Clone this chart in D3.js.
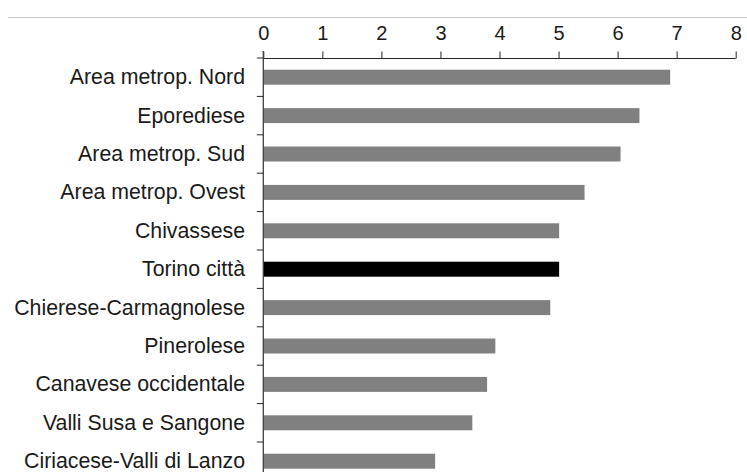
<!DOCTYPE html>
<html>
<head>
<meta charset="utf-8">
<script src="https://cdn.jsdelivr.net/npm/d3@7"></script>
<style>
html,body{margin:0;padding:0;background:#fff;}
svg{display:block;}
text{font-family:"Liberation Sans",Arial,sans-serif;fill:#1a1a1a;}
</style>
</head>
<body>
<svg id="chart" width="747" height="472"></svg>
<script>
const categories = ["Area metrop. Nord","Eporediese","Area metrop. Sud","Area metrop. Ovest","Chivassese","Torino città","Chierese-Carmagnolese","Pinerolese","Canavese occidentale","Valli Susa e Sangone","Ciriacese-Valli di Lanzo"];
const values = [6.89, 6.37, 6.05, 5.44, 5.01, 5.01, 4.86, 3.93, 3.79, 3.54, 2.91];
const highlight = ["Torino città"];
const xTicks = [0,1,2,3,4,5,6,7,8];

const svg = d3.select("#chart");
const x = d3.scaleLinear().domain([0,8]).range([263.3, 735.7]);
const y = d3.scaleBand().domain(categories).range([58, 480.4]).paddingInner(0.61).paddingOuter(0.305);

// top gray rule
svg.append("line").attr("x1",8).attr("x2",747).attr("y1",17.5).attr("y2",17.5)
  .attr("stroke","#c6c6c6").attr("stroke-width",1);

// bars
svg.append("g").selectAll("rect").data(categories).join("rect")
  .attr("x", x(0))
  .attr("y", d => y(d))
  .attr("width", (d,i) => x(values[i]) - x(0))
  .attr("height", y.bandwidth())
  .attr("fill", d => highlight.includes(d) ? "#000000" : "#808080");

// x axis (top)
const xg = svg.append("g").attr("transform","translate(0,58.5)")
  .call(d3.axisTop(x).tickValues(xTicks).tickSize(7).tickPadding(12).tickFormat(d3.format("d")));
xg.select(".domain").attr("stroke","#262626").attr("d", `M${x(0)},0H${x(8)}`);
xg.selectAll(".tick line").attr("stroke","#262626");
xg.selectAll(".tick text").attr("font-size",20).attr("fill","#1a1a1a").style("font-family","Liberation Sans, Arial, sans-serif");

// y axis
const yg = svg.append("g").attr("transform",`translate(${x(0)},0)`);
yg.append("line").attr("x1",0).attr("x2",0).attr("y1",51).attr("y2",472).attr("stroke","#404040").attr("stroke-width",1.3);
const step = y.step();
const bounds = d3.range(categories.length + 1).map(i => y.range()[0] + i*step);
yg.selectAll("line.tk").data(bounds).join("line").attr("class","tk")
  .attr("x1",-6.5).attr("x2",0).attr("y1",d=>d).attr("y2",d=>d)
  .attr("stroke","#262626").attr("stroke-width",1);

// category labels
svg.append("g").selectAll("text").data(categories).join("text")
  .attr("x", 245)
  .attr("y", d => y(d) + y.bandwidth()/2)
  .attr("dy","0.33em")
  .attr("text-anchor","end")
  .attr("font-size",21.3)
  .text(d => d);
</script>
</body>
</html>
